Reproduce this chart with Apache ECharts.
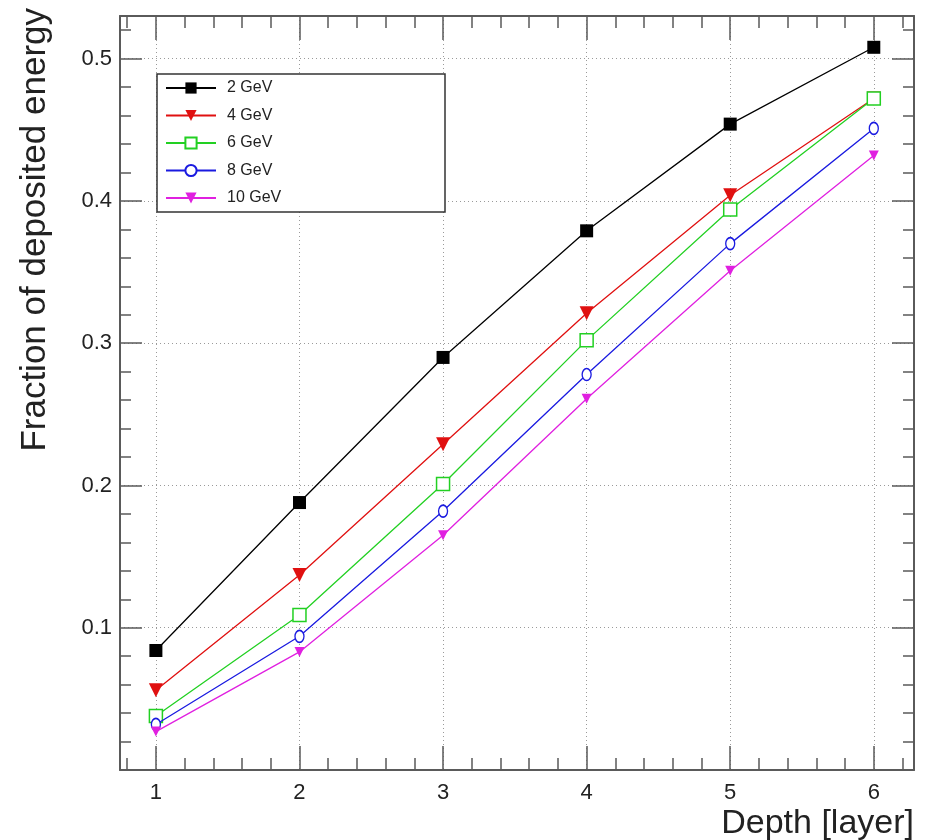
<!DOCTYPE html>
<html>
<head>
<meta charset="utf-8">
<script src="https://cdn.jsdelivr.net/npm/echarts@6/dist/echarts.min.js"></script>
<style>
  html, body { margin: 0; padding: 0; background: #fff; }
  #chart { width: 927px; height: 840px; }
</style>
</head>
<body>
<div id="chart"></div>
<script>
// Fraction of deposited energy per layer, one series per beam energy
const layers = [1, 2, 3, 4, 5, 6];
const energyNames = ['2 GeV', '4 GeV', '6 GeV', '8 GeV', '10 GeV'];
const frac2GeV  = [0.084, 0.188, 0.290, 0.379, 0.454, 0.508];
const frac4GeV  = [0.056, 0.137, 0.229, 0.321, 0.404, 0.472];
const frac6GeV  = [0.038, 0.109, 0.201, 0.302, 0.394, 0.472];
const frac8GeV  = [0.032, 0.094, 0.182, 0.278, 0.370, 0.451];
const frac10GeV = [0.027, 0.083, 0.165, 0.261, 0.351, 0.432];

// Tick positions
const xMajorTicks = [1, 2, 3, 4, 5, 6];
const xMinorTicks = [0.8, 1.2, 1.4, 1.6, 1.8, 2.2, 2.4, 2.6, 2.8, 3.2, 3.4, 3.6, 3.8,
                     4.2, 4.4, 4.6, 4.8, 5.2, 5.4, 5.6, 5.8, 6.2];
const yMajorTicks = [0.1, 0.2, 0.3, 0.4, 0.5];
const yMinorTicks = [0.02, 0.04, 0.06, 0.08, 0.12, 0.14, 0.16, 0.18, 0.22, 0.24, 0.26, 0.28,
                     0.32, 0.34, 0.36, 0.38, 0.42, 0.44, 0.46, 0.48, 0.52];

const FONT = "'Liberation Sans', Arial, Helvetica, sans-serif";
const X_MIN = 0.75, X_MAX = 6.28;
const Y_MIN = 0, Y_MAX = 0.53;
const FRAME = { color: '#5a5a5a', width: 2 };
const GRID_LINE = { show: true, lineStyle: { color: '#9a9a9a', width: 1, type: [1, 3] } };

function xAxisDef(position, ticks, len, withLine, withLabels) {
  return {
    type: 'value', position: position, min: X_MIN, max: X_MAX,
    axisLine: { show: withLine, onZero: false, lineStyle: FRAME },
    axisTick: { show: true, inside: true, length: len, customValues: ticks,
                lineStyle: { color: '#5a5a5a', width: 1.5 } },
    axisLabel: withLabels
      ? { show: true, customValues: ticks, fontSize: 22, fontFamily: FONT, color: '#222', margin: 12 }
      : { show: false },
    splitLine: (withLabels ? GRID_LINE : { show: false })
  };
}
function yAxisDef(position, ticks, len, withLine, withLabels) {
  return {
    type: 'value', position: position, min: Y_MIN, max: Y_MAX,
    axisLine: { show: withLine, onZero: false, lineStyle: FRAME },
    axisTick: { show: true, inside: true, length: len, customValues: ticks,
                lineStyle: { color: '#5a5a5a', width: 1.5 } },
    axisLabel: withLabels
      ? { show: true, customValues: ticks, fontSize: 22, fontFamily: FONT, color: '#222', margin: 8 }
      : { show: false },
    splitLine: (withLabels ? GRID_LINE : { show: false })
  };
}

const seriesStyles = [
  { data: frac2GeV,  color: '#000000', symbol: 'rect',     size: 13, rotate: 0,   fill: '#000000', border: 0 },
  { data: frac4GeV,  color: '#e01010', symbol: 'triangle', size: 14, rotate: 180, fill: '#e01010', border: 0 },
  { data: frac6GeV,  color: '#22d022', symbol: 'rect',     size: 13, rotate: 0,   fill: '#ffffff', border: 1.5 },
  { data: frac8GeV,  color: '#1a1ae0', symbol: 'circle',   size: [9, 12], rotate: 0, fill: '#ffffff', border: 1.5 },
  { data: frac10GeV, color: '#e020e0', symbol: 'triangle', size: 10, rotate: 180, fill: '#e020e0', border: 0 }
];

const series = seriesStyles.map((s, k) => ({
  name: energyNames[k],
  type: 'line',
  xAxisIndex: 0,
  yAxisIndex: 0,
  data: layers.map((x, i) => [x, s.data[i]]),
  symbol: s.symbol,
  symbolSize: s.size,
  symbolRotate: s.rotate,
  showAllSymbol: true,
  lineStyle: { color: s.color, width: 1.3 },
  itemStyle: { color: s.fill, borderColor: s.color, borderWidth: s.border },
  z: 5 + k
}));

const chart = echarts.init(document.getElementById('chart'), null, { renderer: 'canvas' });
chart.setOption({
  animation: false,
  backgroundColor: '#ffffff',
  grid: { left: 120, top: 16, right: 13, bottom: 70 },
  xAxis: [
    xAxisDef('bottom', xMajorTicks, 24, true, true),
    xAxisDef('bottom', xMinorTicks, 12, false, false),
    xAxisDef('top', xMajorTicks, 24, true, false),
    xAxisDef('top', xMinorTicks, 12, false, false)
  ],
  yAxis: [
    yAxisDef('left', yMajorTicks, 22, true, true),
    yAxisDef('left', yMinorTicks, 11, false, false),
    yAxisDef('right', yMajorTicks, 22, true, false),
    yAxisDef('right', yMinorTicks, 11, false, false)
  ],
  legend: {
    data: energyNames,
    orient: 'vertical',
    left: 165,
    top: 80,
    padding: 0,
    itemWidth: 50,
    itemHeight: 14,
    itemGap: 11.5,
    textStyle: { fontSize: 16, fontFamily: FONT, color: '#222', padding: [0, 0, 0, 6] },
    z: 10
  },
  graphic: [
    {
      type: 'rect', z: 8,
      shape: { x: 157, y: 74, width: 288, height: 138 },
      style: { fill: '#ffffff', stroke: '#333333', lineWidth: 1.5 }
    },
    {
      type: 'text', z: 8,
      x: 35, y: 8, rotation: Math.PI / 2,
      style: { text: 'Fraction of deposited energy', font: '35px ' + FONT, fill: '#222',
               align: 'right', verticalAlign: 'middle' }
    },
    {
      type: 'text', z: 8,
      x: 914, y: 824,
      style: { text: 'Depth [layer]', font: '34px ' + FONT, fill: '#222',
               align: 'right', verticalAlign: 'middle' }
    }
  ],
  series: series
});
</script>
</body>
</html>
